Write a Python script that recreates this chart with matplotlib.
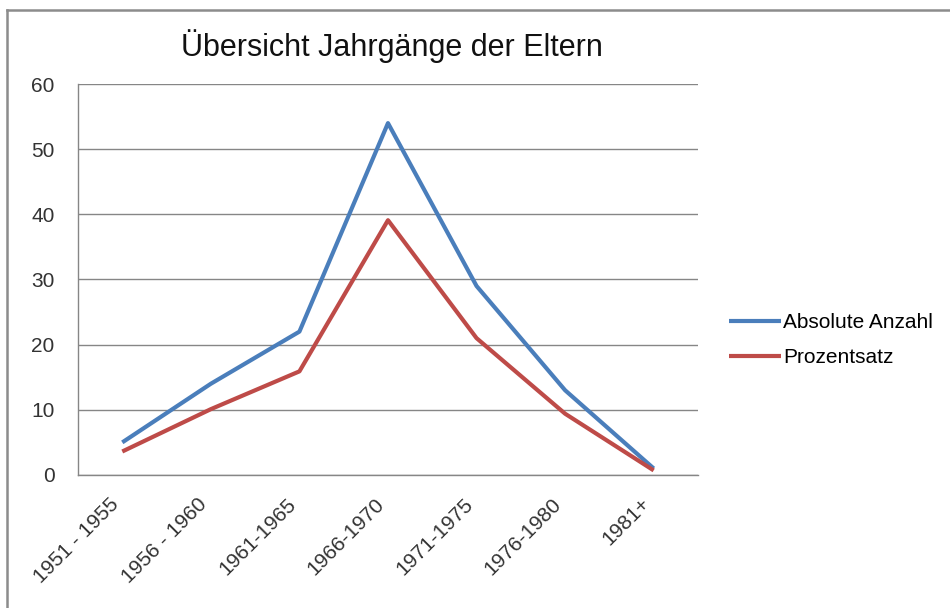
import matplotlib
matplotlib.use("Agg")
import matplotlib.pyplot as plt
from matplotlib.lines import Line2D

categories = ["1951 - 1955", "1956 - 1960", "1961-1965", "1966-1970",
              "1971-1975", "1976-1980", "1981+"]
absolute = [5, 14, 22, 54, 29, 13, 1]
prozent = [3.6, 10.1, 15.9, 39.1, 21.0, 9.4, 0.7]
yticks = [0, 10, 20, 30, 40, 50, 60]

plt.rcParams['font.family'] = ['Liberation Sans', 'DejaVu Sans']

fig = plt.figure(figsize=(9.5, 6.08), dpi=100)
ax = fig.add_axes([0.0821, 0.2188, 0.6526, 0.6430])

x = list(range(len(categories)))
ax.plot(x, absolute, color='#4a7ebb', lw=3.0, label='Absolute Anzahl', solid_capstyle='butt')
ax.plot(x, prozent, color='#be4b48', lw=3.0, label='Prozentsatz', solid_capstyle='butt')

ax.set_xlim(-0.5, len(categories) - 0.5)
ax.set_ylim(0, 60)
ax.set_yticks(yticks)
ax.set_yticklabels([str(v) for v in yticks])
ax.set_xticks(x)
ax.set_xticklabels(categories, rotation=45, ha='right')
ax.tick_params(axis='y', length=0, pad=17, labelsize=15, labelcolor='#333333')
ax.tick_params(axis='x', length=0, pad=14, labelsize=15, labelcolor='#333333')

ax.grid(axis='y', color='#868686', lw=1.0)
ax.set_axisbelow(True)
for s in ['top', 'right']:
    ax.spines[s].set_visible(False)
for s in ['left', 'bottom']:
    ax.spines[s].set_color('#868686')
    ax.spines[s].set_linewidth(1.0)

fig.text(0.413, 0.925, "Übersicht Jahrgänge der Eltern", ha='center', va='center',
         fontsize=22, color='#111111')

leg = ax.legend(loc='center left', bbox_to_anchor=(1.02, 0.345), frameon=False,
                fontsize=15, handlelength=2.5, handletextpad=0.1, labelspacing=0.78)

# chart area border (top and left visible)
fig.add_artist(Line2D([7/950, 1.0], [1 - 10/608, 1 - 10/608], color='#8c8c8c', lw=1.8,
                      transform=fig.transFigure))
fig.add_artist(Line2D([7/950, 7/950], [0.0, 1 - 10/608], color='#8c8c8c', lw=1.8,
                      transform=fig.transFigure))

fig.savefig("out.png", dpi=100)
